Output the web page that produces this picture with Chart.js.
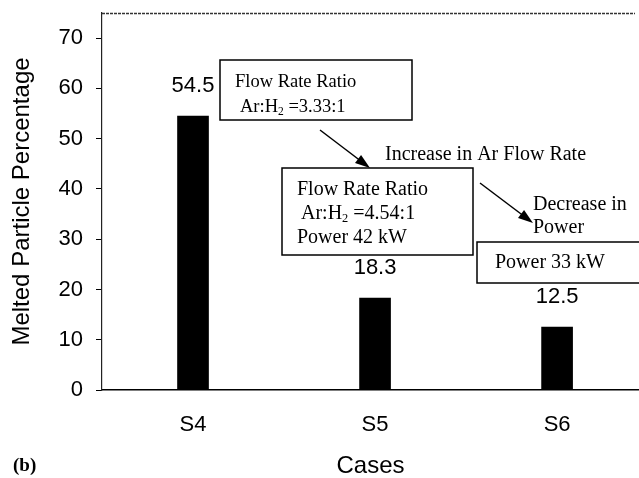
<!DOCTYPE html>
<html>
<head>
<meta charset="utf-8">
<style>
  html, body { margin: 0; padding: 0; background: #fff; }
</style>
<script src="https://cdn.jsdelivr.net/npm/chart.js@4.4.1/dist/chart.umd.min.js"></script>
</head>
<body>
<canvas id="chart" width="639" height="478"></canvas>
<script>
// data
const cases = ['S4', 'S5', 'S6'];
const caseX = [1, 2, 3];
const melted = [54.5, 18.3, 12.5];
const yTicks = [0, 10, 20, 30, 40, 50, 60, 70];

const SANS = '"Liberation Sans", Arial, sans-serif';
const SERIF = '"Liberation Serif", "Times New Roman", serif';

function drawBox(ctx, x, y, w, h) {
    ctx.lineWidth = 1.5;
    ctx.strokeStyle = '#000';
    ctx.strokeRect(x, y, w, h);
}

function drawArrow(ctx, x1, y1, x2, y2) {
    const ang = Math.atan2(y2 - y1, x2 - x1);
    const len = 15, half = 5;
    ctx.lineWidth = 1.5;
    ctx.strokeStyle = '#000';
    ctx.beginPath();
    ctx.moveTo(x1, y1);
    ctx.lineTo(x2 - Math.cos(ang) * len * 0.8, y2 - Math.sin(ang) * len * 0.8);
    ctx.stroke();
    ctx.beginPath();
    ctx.moveTo(x2, y2);
    ctx.lineTo(x2 - Math.cos(ang) * len - Math.sin(ang) * half, y2 - Math.sin(ang) * len + Math.cos(ang) * half);
    ctx.lineTo(x2 - Math.cos(ang) * len + Math.sin(ang) * half, y2 - Math.sin(ang) * len - Math.cos(ang) * half);
    ctx.closePath();
    ctx.fillStyle = '#000';
    ctx.fill();
}

// text with a subscript part, e.g. Ar:H2
function drawRich(ctx, parts, x, y, size) {
    let cx = x;
    parts.forEach(p => {
        const s = p.sub ? size * 0.62 : size;
        ctx.font = s + 'px ' + SERIF;
        ctx.fillText(p.t, cx, p.sub ? y + size * 0.25 : y);
        cx += ctx.measureText(p.t).width;
    });
}

const extras = {
    id: 'extras',
    afterDraw(chart) {
        const { ctx, chartArea: a } = chart;
        ctx.save();

        // dotted top frame line
        ctx.strokeStyle = '#333';
        ctx.lineWidth = 1.3;
        ctx.setLineDash([3, 1]);
        ctx.beginPath();
        ctx.moveTo(a.left, a.top + 0.5);
        ctx.lineTo(a.right - 4, a.top + 0.5);
        ctx.stroke();
        ctx.setLineDash([]);

        // values above bars
        ctx.fillStyle = '#000';
        ctx.textAlign = 'center';
        ctx.textBaseline = 'middle';
        ctx.font = '22px ' + SANS;
        chart.getDatasetMeta(0).data.forEach((bar, i) => {
            ctx.fillText(melted[i].toFixed(1), bar.x, bar.y - 30);
        });

        // annotation boxes
        ctx.textAlign = 'left';
        drawBox(ctx, 220, 60, 192, 60);
        ctx.font = '18.5px ' + SERIF;
        ctx.fillText('Flow Rate Ratio', 235, 82);
        drawRich(ctx, [{ t: 'Ar:H' }, { t: '2', sub: true }, { t: ' =3.33:1' }], 240, 107, 18.5);

        drawArrow(ctx, 320, 130, 370, 168);
        ctx.font = '20px ' + SERIF;
        ctx.fillText('Increase in Ar Flow Rate', 385, 155);

        drawBox(ctx, 282, 168, 191, 87);
        ctx.font = '20px ' + SERIF;
        ctx.fillText('Flow Rate Ratio', 297, 190);
        drawRich(ctx, [{ t: 'Ar:H' }, { t: '2', sub: true }, { t: ' =4.54:1' }], 301, 214, 20);
        ctx.font = '20px ' + SERIF;
        ctx.fillText('Power 42 kW', 297, 238);

        drawArrow(ctx, 480, 183, 533, 223);
        ctx.fillText('Decrease in', 533, 205);
        ctx.fillText('Power', 533, 228);

        drawBox(ctx, 477, 242, 180, 41);
        ctx.font = '20px ' + SERIF;
        ctx.fillText('Power 33 kW', 495, 263);

        // panel label
        ctx.font = 'bold 19px ' + SERIF;
        ctx.fillText('(b)', 13, 466);

        ctx.restore();
    }
};

new Chart(document.getElementById('chart').getContext('2d'), {
    type: 'bar',
    data: {
        datasets: [{
            data: caseX.map((x, i) => ({ x: x, y: melted[i] })),
            backgroundColor: '#000',
            borderWidth: 0,
            barThickness: 31
        }]
    },
    options: {
        responsive: false,
        animation: false,
        layout: { padding: { top: 13, right: 0, left: 0, bottom: 0 } },
        plugins: {
            legend: { display: false },
            tooltip: { enabled: false }
        },
        scales: {
            x: {
                type: 'linear',
                offset: false,
                min: 0.5,
                max: 3.45,
                afterBuildTicks: s => { s.ticks = caseX.map(v => ({ value: v })); },
                afterFit: s => { s.height = 88; s.paddingLeft = 0; s.paddingRight = 0; },
                grid: { display: false, drawTicks: false },
                border: { display: true, color: '#000', width: 1.5 },
                ticks: {
                    color: '#000',
                    font: { family: SANS, size: 22 },
                    padding: 22,
                    maxRotation: 0,
                    callback: v => cases[caseX.indexOf(v)] || ''
                },
                title: {
                    display: true,
                    text: 'Cases',
                    color: '#000',
                    font: { family: SANS, size: 24, lineHeight: 1 },
                    padding: { top: 0, bottom: 0 }
                }
            },
            y: {
                min: 0,
                max: 75,
                afterBuildTicks: s => { s.ticks = yTicks.map(v => ({ value: v })); },
                afterFit: s => { s.width = 102; s.paddingTop = 0; s.paddingBottom = 0; },
                grid: { drawOnChartArea: false, drawTicks: true, tickLength: 6, color: '#000' },
                border: { display: true, color: '#222', width: 1.2 },
                ticks: {
                    color: '#000',
                    font: { family: SANS, size: 22 },
                    padding: 13
                },
                title: {
                    display: true,
                    text: 'Melted Particle Percentage',
                    color: '#000',
                    font: { family: SANS, size: 24 },
                    padding: { top: 8, bottom: 0 }
                }
            }
        }
    },
    plugins: [extras]
});
</script>
</body>
</html>
